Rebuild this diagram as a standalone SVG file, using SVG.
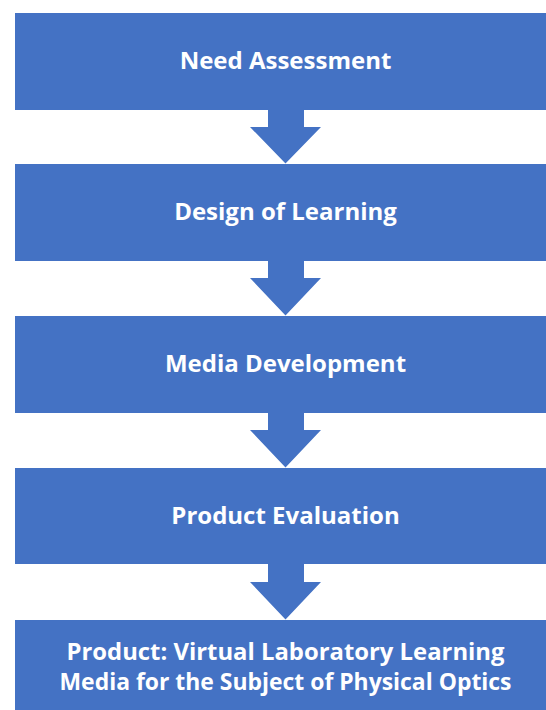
<svg xmlns="http://www.w3.org/2000/svg" width="546" height="710" viewBox="0 0 546 710">
<style>
.box{fill:#4472C4}
.arr{fill:#4472C4}
.lbl{font-family:"Open Sans","Noto Sans","DejaVu Sans",sans-serif;font-weight:700;font-size:24px;fill:#ffffff;text-anchor:middle}
</style>
<rect x="0" y="0" width="546" height="710" fill="#ffffff"/>
<g id="connectors">
<path class="arr" d="M268,110 H304 V127 H321 L285.5,163.5 L250,127 H268 Z"/>
<path class="arr" d="M268,261 H304 V278 H321 L285.5,315.5 L250,278 H268 Z"/>
<path class="arr" d="M268,413 H304 V430 H321 L285.5,467.5 L250,430 H268 Z"/>
<path class="arr" d="M268,564 H304 V582 H321 L285.5,619.5 L250,582 H268 Z"/>
</g>
<g id="need-assessment">
<rect class="box" x="15" y="13" width="531" height="97"/>
<text class="lbl" x="285.5" y="69">Need Assessment</text>
</g>
<g id="design-of-learning">
<rect class="box" x="15" y="164" width="531" height="97"/>
<text class="lbl" x="285.5" y="220">Design of Learning</text>
</g>
<g id="media-development">
<rect class="box" x="15" y="316" width="531" height="97"/>
<text class="lbl" x="285.5" y="372">Media Development</text>
</g>
<g id="product-evaluation">
<rect class="box" x="15" y="468" width="531" height="96"/>
<text class="lbl" x="285.5" y="524">Product Evaluation</text>
</g>
<g id="product">
<rect class="box" x="15" y="620" width="531" height="90"/>
<text class="lbl" x="285.5" y="660" textLength="438" lengthAdjust="spacingAndGlyphs">Product: Virtual Laboratory Learning</text>
<text class="lbl" x="285.5" y="690" textLength="452" lengthAdjust="spacingAndGlyphs">Media for the Subject of Physical Optics</text>
</g>
</svg>
